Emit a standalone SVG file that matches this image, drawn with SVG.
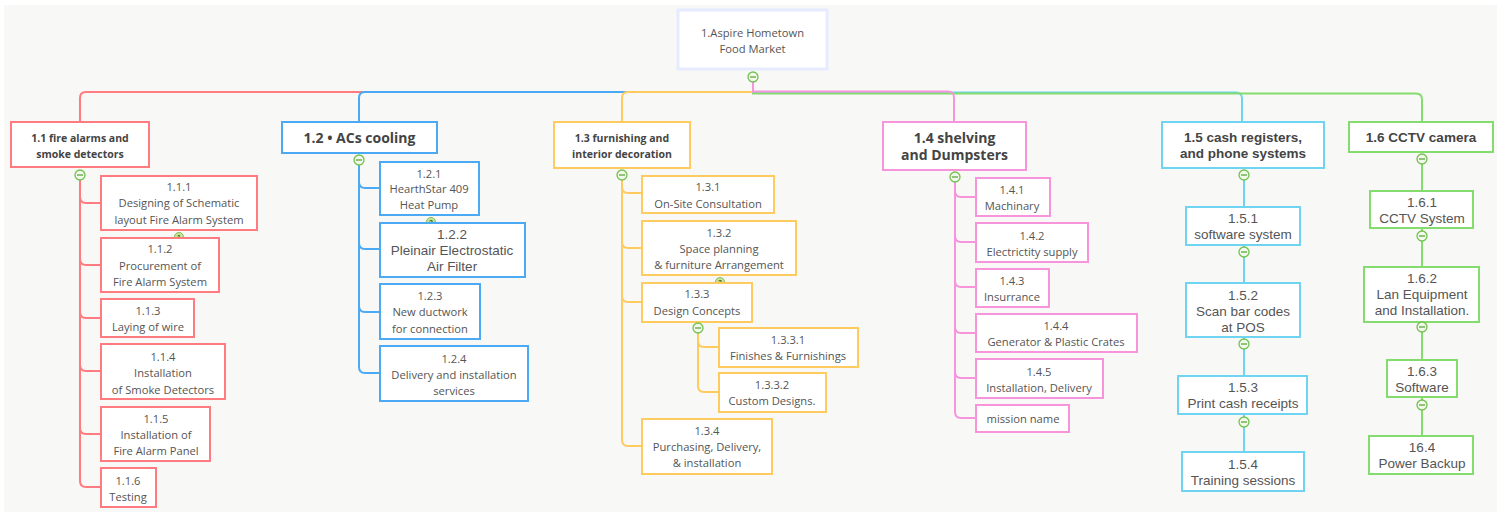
<svg xmlns="http://www.w3.org/2000/svg" width="1502" height="512" viewBox="0 0 1502 512">
<style>
.bg{fill:#f8f8f6}
.box{fill:#fff;stroke-width:2}
.r{stroke:#ff7b80}.b{stroke:#4caaf5}.o{stroke:#ffcb5f}.p{stroke:#f794dc}.c{stroke:#6fd3f2}.g{stroke:#84dc6e}
.ln{fill:none;stroke-width:2}
.t{font-family:"Open Sans","Noto Sans",sans-serif;font-size:11.2px;fill:#555;text-anchor:middle}
.a{font-family:"Liberation Sans",Arial,sans-serif;font-size:13.5px;fill:#555;text-anchor:middle}
.hs{font-family:"Open Sans","Noto Sans",sans-serif;font-weight:bold;font-size:10.5px;fill:#444;text-anchor:middle}
.hl{font-family:"Open Sans","Noto Sans",sans-serif;font-weight:bold;font-size:14px;fill:#444;text-anchor:middle}
.ha{font-family:"Liberation Sans",Arial,sans-serif;font-weight:bold;font-size:13.5px;fill:#444;text-anchor:middle}
.cc{fill:#f2f9ec;stroke:#72c24f;stroke-width:1.3}
.cm{stroke:#5aa83a;stroke-width:1.3}
.bd{fill:#c5e59a;stroke:#86bb55;stroke-width:1}
.bt{font-family:"Liberation Sans",Arial,sans-serif;font-size:7px;font-weight:bold;fill:#3d5a1e;text-anchor:middle}
</style>
<defs>
<g id="col"><circle class="cc" cx="0" cy="0" r="5"/><line class="cm" x1="-3" y1="0" x2="3" y2="0"/></g>
</defs>
<rect class="bg" x="4" y="5" width="1493" height="507"/>

<g id="connectors">
<path class="ln r" d="M753,82 V92 H86 Q80,92 80,98 V122"/>
<path class="ln b" d="M753,82 V92 H365 Q359,92 359,98 V122"/>
<path class="ln o" d="M753,82 V92 H628 Q622,92 622,98 V122"/>
<path class="ln c" d="M753,82 V92.5 H1236 Q1242,92.5 1242,98.5 V122"/>
<path class="ln g" d="M753,82 V93.5 H1416 Q1422,93.5 1422,99.5 V122"/>
<path class="ln p" d="M753,82 V91.5 H948 Q954,91.5 954,97.5 V122"/>
<path class="ln r" d="M80,180 V197 Q80,203 86,203 H101 M80,180 V259 Q80,265 86,265 H101 M80,180 V312 Q80,318 86,318 H101 M80,180 V365 Q80,371 86,371 H101 M80,180 V428 Q80,434 86,434 H101 M80,180 V481 Q80,487 86,487 H101"/>
<path class="ln b" d="M359,165 V182 Q359,188 365,188 H380 M359,165 V243 Q359,249 365,249 H380 M359,165 V306 Q359,312 365,312 H380 M359,165 V367 Q359,373 365,373 H380"/>
<path class="ln o" d="M622,180 V187 Q622,193 628,193 H642 M622,180 V242 Q622,248 628,248 H642 M622,180 V296 Q622,302 628,302 H642 M622,180 V440 Q622,446 628,446 H642"/>
<path class="ln o" d="M698,333 V341 Q698,347 704,347 H719 M698,333 V386 Q698,392 704,392 H719"/>
<path class="ln p" d="M955,182 V191 Q955,197 961,197 H976 M955,182 V236 Q955,242 961,242 H976 M955,182 V281 Q955,287 961,287 H976 M955,182 V327 Q955,333 961,333 H976 M955,182 V372 Q955,378 961,378 H976 M955,182 V412 Q955,418 961,418 H976"/>
<path class="ln c" d="M1244,180 V207 M1244,245 V252 M1244,257 V283 M1244,337 V344 M1244,349 V376 M1244,414 V422 M1244,427 V452"/>
<path class="ln g" d="M1422,164 V191 M1422,228 V236 M1422,241 V267 M1422,322 V327 M1422,332 V360 M1422,397 V405 M1422,410 V436"/>
</g>

<g id="root">
<rect x="678" y="10" width="149" height="59" fill="#fff" stroke="#e6ebff" stroke-width="3"/>
<text class="t" x="752.5" y="37">1.Aspire Hometown</text>
<text class="t" x="752.5" y="53">Food Market</text>
<use href="#col" x="753" y="77"/>
</g>

<g id="n1_1">
<rect class="box r" x="11" y="122" width="138" height="45"/>
<text class="hs" x="80" y="142">1.1 fire alarms and</text>
<text class="hs" x="80" y="158">smoke detectors</text>
<use href="#col" x="80" y="175"/>
</g>
<g id="n1_1_1">
<rect class="box r" x="101" y="176" width="156" height="54"/>
<text class="t" x="179" y="191">1.1.1</text>
<text class="t" x="179" y="207">Designing of Schematic</text>
<text class="t" x="179" y="224">layout Fire Alarm System</text>
<circle class="bd" cx="179" cy="237" r="4.5"/><text class="bt" x="179" y="239.5">1</text>
</g>
<g id="n1_1_2">
<rect class="box r" x="101" y="238" width="118" height="54"/>
<text class="t" x="160" y="253">1.1.2</text>
<text class="t" x="160" y="270">Procurement of</text>
<text class="t" x="160" y="286">Fire Alarm System</text>
</g>
<g id="n1_1_3">
<rect class="box r" x="101" y="299" width="93" height="38"/>
<text class="t" x="148" y="315">1.1.3</text>
<text class="t" x="148" y="331">Laying of wire</text>
</g>
<g id="n1_1_4">
<rect class="box r" x="101" y="344" width="124" height="55"/>
<text class="t" x="163" y="361">1.1.4</text>
<text class="t" x="163" y="377">Installation</text>
<text class="t" x="163" y="394">of Smoke Detectors</text>
</g>
<g id="n1_1_5">
<rect class="box r" x="101" y="407" width="109" height="54"/>
<text class="t" x="156" y="423">1.1.5</text>
<text class="t" x="156" y="439">Installation of</text>
<text class="t" x="156" y="455">Fire Alarm Panel</text>
</g>
<g id="n1_1_6">
<rect class="box r" x="101" y="468" width="55" height="39"/>
<text class="t" x="128" y="485">1.1.6</text>
<text class="t" x="128" y="501">Testing</text>
</g>

<g id="n1_2">
<rect class="box b" x="282" y="122" width="155" height="31"/>
<text class="hl" x="359.5" y="143" font-size="15">1.2 • ACs cooling</text>
<use href="#col" x="359" y="160"/>
</g>
<g id="n1_2_1">
<rect class="box b" x="380" y="162" width="99" height="53"/>
<text class="t" x="429" y="178">1.2.1</text>
<text class="t" x="429" y="193">HearthStar 409</text>
<text class="t" x="429" y="209">Heat Pump</text>
<circle class="bd" cx="431" cy="222" r="4.5"/><text class="bt" x="431" y="224.5">2</text>
</g>
<g id="n1_2_2">
<rect class="box b" x="380" y="223" width="145" height="54"/>
<text class="a" x="452" y="239" font-size="14">1.2.2</text>
<text class="a" x="452" y="255" font-size="14">Pleinair Electrostatic</text>
<text class="a" x="452" y="271" font-size="14">Air Filter</text>
</g>
<g id="n1_2_3">
<rect class="box b" x="380" y="284" width="100" height="55"/>
<text class="t" x="430" y="300">1.2.3</text>
<text class="t" x="430" y="316">New ductwork</text>
<text class="t" x="430" y="333">for connection</text>
</g>
<g id="n1_2_4">
<rect class="box b" x="380" y="346" width="148" height="55"/>
<text class="t" x="454" y="363">1.2.4</text>
<text class="t" x="454" y="379">Delivery and installation</text>
<text class="t" x="454" y="395">services</text>
</g>

<g id="n1_3">
<rect class="box o" x="554" y="122" width="136" height="46"/>
<text class="hs" x="622" y="142">1.3 furnishing and</text>
<text class="hs" x="622" y="158">interior decoration</text>
<use href="#col" x="622" y="175"/>
</g>
<g id="n1_3_1">
<rect class="box o" x="642" y="176" width="132" height="37"/>
<text class="t" x="708" y="191">1.3.1</text>
<text class="t" x="708" y="208">On-Site Consultation</text>
</g>
<g id="n1_3_2">
<rect class="box o" x="642" y="221" width="154" height="54"/>
<text class="t" x="719" y="237">1.3.2</text>
<text class="t" x="719" y="253">Space planning</text>
<text class="t" x="719" y="269">&amp; furniture Arrangement</text>
<circle class="bd" cx="720" cy="282" r="4.5"/><text class="bt" x="720" y="284.5">3</text>
</g>
<g id="n1_3_3">
<rect class="box o" x="642" y="283" width="110" height="39"/>
<text class="t" x="697" y="298">1.3.3</text>
<text class="t" x="697" y="315">Design Concepts</text>
<use href="#col" x="698" y="328"/>
</g>
<g id="n1_3_3_1">
<rect class="box o" x="719" y="328" width="139" height="39"/>
<text class="t" x="788" y="344">1.3.3.1</text>
<text class="t" x="788" y="360">Finishes &amp; Furnishings</text>
</g>
<g id="n1_3_3_2">
<rect class="box o" x="719" y="373" width="107" height="39"/>
<text class="t" x="772" y="389">1.3.3.2</text>
<text class="t" x="772" y="405">Custom Designs.</text>
</g>
<g id="n1_3_4">
<rect class="box o" x="642" y="419" width="130" height="55"/>
<text class="t" x="707" y="435">1.3.4</text>
<text class="t" x="707" y="451">Purchasing, Delivery,</text>
<text class="t" x="707" y="467">&amp; installation</text>
</g>

<g id="n1_4">
<rect class="box p" x="883" y="122" width="143" height="48"/>
<text class="hl" x="954.5" y="143">1.4 shelving</text>
<text class="hl" x="954.5" y="160">and Dumpsters</text>
<use href="#col" x="955" y="177"/>
</g>
<g id="n1_4_1">
<rect class="box p" x="976" y="178" width="74" height="38"/>
<text class="t" x="1012" y="194">1.4.1</text>
<text class="t" x="1012" y="210">Machinary</text>
</g>
<g id="n1_4_2">
<rect class="box p" x="976" y="223" width="112" height="39"/>
<text class="t" x="1032" y="240">1.4.2</text>
<text class="t" x="1032" y="256">Electrictity supply</text>
</g>
<g id="n1_4_3">
<rect class="box p" x="976" y="269" width="73" height="38"/>
<text class="t" x="1012" y="285">1.4.3</text>
<text class="t" x="1012" y="301">Insurrance</text>
</g>
<g id="n1_4_4">
<rect class="box p" x="976" y="314" width="161" height="38"/>
<text class="t" x="1056" y="330">1.4.4</text>
<text class="t" x="1056" y="346">Generator &amp; Plastic Crates</text>
</g>
<g id="n1_4_5">
<rect class="box p" x="976" y="359" width="127" height="39"/>
<text class="t" x="1039" y="376">1.4.5</text>
<text class="t" x="1039" y="392">Installation, Delivery</text>
</g>
<g id="n1_4_6">
<rect class="box p" x="976" y="405" width="93" height="27"/>
<text class="t" x="1023" y="423">mission name</text>
</g>

<g id="n1_5">
<rect class="box c" x="1162" y="122" width="162" height="46"/>
<text class="ha" x="1243" y="142">1.5 cash registers,</text>
<text class="ha" x="1243" y="158">and phone systems</text>
<use href="#col" x="1244" y="175"/>
</g>
<g id="n1_5_1">
<rect class="box c" x="1186" y="207" width="114" height="38"/>
<text class="a" x="1243" y="223">1.5.1</text>
<text class="a" x="1243" y="239">software system</text>
<use href="#col" x="1244" y="252"/>
</g>
<g id="n1_5_2">
<rect class="box c" x="1186" y="283" width="114" height="54"/>
<text class="a" x="1243" y="300">1.5.2</text>
<text class="a" x="1243" y="316">Scan bar codes</text>
<text class="a" x="1243" y="332">at POS</text>
<use href="#col" x="1244" y="344"/>
</g>
<g id="n1_5_3">
<rect class="box c" x="1178" y="376" width="129" height="38"/>
<text class="a" x="1243" y="392">1.5.3</text>
<text class="a" x="1243" y="408">Print cash receipts</text>
<use href="#col" x="1244" y="422"/>
</g>
<g id="n1_5_4">
<rect class="box c" x="1182" y="452" width="122" height="39"/>
<text class="a" x="1243" y="469">1.5.4</text>
<text class="a" x="1243" y="485">Training sessions</text>
</g>

<g id="n1_6">
<rect class="box g" x="1349" y="122" width="144" height="30"/>
<text class="ha" x="1421" y="142">1.6 CCTV camera</text>
<use href="#col" x="1422" y="159"/>
</g>
<g id="n1_6_1">
<rect class="box g" x="1370" y="191" width="103" height="37"/>
<text class="a" x="1422" y="207">1.6.1</text>
<text class="a" x="1422" y="223">CCTV System</text>
<use href="#col" x="1422" y="236"/>
</g>
<g id="n1_6_2">
<rect class="box g" x="1364" y="267" width="115" height="55"/>
<text class="a" x="1422" y="283">1.6.2</text>
<text class="a" x="1422" y="299">Lan Equipment</text>
<text class="a" x="1422" y="315">and Installation.</text>
<use href="#col" x="1422" y="327"/>
</g>
<g id="n1_6_3">
<rect class="box g" x="1387" y="360" width="70" height="37"/>
<text class="a" x="1422" y="376">1.6.3</text>
<text class="a" x="1422" y="392">Software</text>
<use href="#col" x="1422" y="405"/>
</g>
<g id="n1_6_4">
<rect class="box g" x="1369" y="436" width="104" height="38"/>
<text class="a" x="1422" y="452">16.4</text>
<text class="a" x="1422" y="468">Power Backup</text>
</g>
</svg>
